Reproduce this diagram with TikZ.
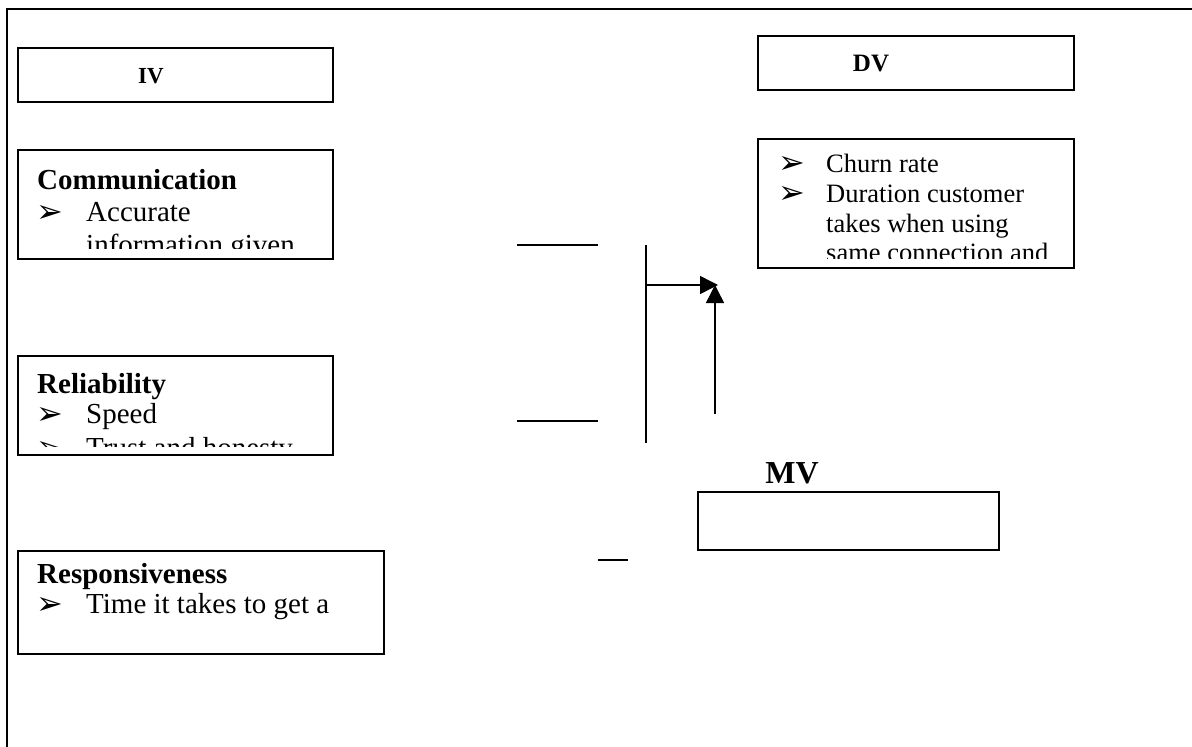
\documentclass[tikz,border=0pt]{standalone}
\usepackage{fontspec}
\setmainfont{Liberation Serif}
\newfontfamily\dejavu{DejaVu Sans}
\usetikzlibrary{arrows.meta}
\newcommand{\bul}{{\dejavu\fontsize{32}{32}\selectfont ➢}}
\begin{document}
\begin{tikzpicture}[x=1pt,y=-1pt,
  box/.style={draw, line width=1.5pt, inner sep=0pt, anchor=north west},
  head/.style={anchor=base west, inner sep=0pt, font=\bfseries\fontsize{29}{29}\selectfont},
  txt/.style={anchor=base west, inner sep=0pt, font=\fontsize{29}{29}\selectfont},
  dtxt/.style={anchor=base west, inner sep=0pt, font=\fontsize{26.5}{26.5}\selectfont},
  bull/.style={anchor=base west, inner sep=0pt},
  conn/.style={line width=1.5pt},
  arr/.style={line width=1.5pt, -{Triangle[length=18pt,width=18pt]}}]
\useasboundingbox (0,0) rectangle (1192,747);
\draw[line width=2pt] (1200,9) -- (7,9) -- (7,760);
% boxes
\node[box, minimum width=315pt, minimum height=54pt] (iv) at (17,47) {};
\node[box, minimum width=316pt, minimum height=54pt] (dv) at (757,35) {};
\node[box, minimum width=315pt, minimum height=109pt] (com) at (17,149) {};
\node[box, minimum width=315pt, minimum height=99pt] (rel) at (17,355) {};
\node[box, minimum width=366pt, minimum height=103pt] (res) at (17,550) {};
\node[box, minimum width=316pt, minimum height=129pt] (dvt) at (757,138) {};
\node[box, minimum width=301pt, minimum height=58pt] (mv) at (697,491) {};
% titles
\node[anchor=base, inner sep=0pt, font=\bfseries\fontsize{23}{23}\selectfont] (ivt) at (151,83) {IV};
\node[anchor=base, inner sep=0pt, font=\bfseries\fontsize{25}{25}\selectfont] (dvl) at (871,71) {DV};
\node[anchor=base, inner sep=0pt, font=\bfseries\fontsize{32}{32}\selectfont] (mvl) at (792,483) {MV};
% communication
\begin{scope}
\clip (18,150) rectangle (331,248);
\node[head] (c1) at (37,189) {Communication};
\node[bull] (cb1) at (36,222) {\bul};
\node[txt] (c2) at (86,221) {Accurate};
\node[txt] (c3) at (86,254) {information given};
\end{scope}
% reliability
\begin{scope}
\clip (18,356) rectangle (331,446);
\node[head] (r1) at (37,393) {Reliability};
\node[bull] (rb1) at (36,424) {\bul};
\node[txt] (r2) at (86,423) {Speed};
\node[bull] (rb2) at (36,458) {\bul};
\node[txt] (r3) at (86,457) {Trust and honesty};
\end{scope}
% responsiveness
\node[head] (s1) at (37,583) {Responsiveness};
\node[bull] (sb1) at (36,614) {\bul};
\node[txt] (s2) at (86,613) {Time it takes to get a};
% DV text
\begin{scope}
\clip (758,139) rectangle (1072,258);
\node[bull] (db1) at (778,173) {\bul};
\node[dtxt] (d1) at (826,172) {Churn rate};
\node[bull] (db2) at (778,203) {\bul};
\node[dtxt] (d2) at (826,202) {Duration customer};
\node[dtxt] (d3) at (826,232) {takes when using};
\node[dtxt] (d4) at (826,261) {same connection and};
\end{scope}
% connectors
\coordinate (l1a) at (517,245); \coordinate (l1b) at (598,245);
\coordinate (l2a) at (517,421); \coordinate (l2b) at (598,421);
\coordinate (vt) at (646,245); \coordinate (vb) at (646,443);
\coordinate (ha) at (646,285); \coordinate (hb) at (718,285);
\coordinate (ua) at (715,414); \coordinate (ub) at (715,285);
\coordinate (sa) at (598,560); \coordinate (sb) at (628,560);
\draw[conn] (l1a) -- (l1b);
\draw[conn] (l2a) -- (l2b);
\draw[conn] (vt) -- (vb);
\draw[conn] (sa) -- (sb);
\draw[arr] (ha) -- (hb);
\draw[arr] (ua) -- (ub);
\end{tikzpicture}
\end{document}
